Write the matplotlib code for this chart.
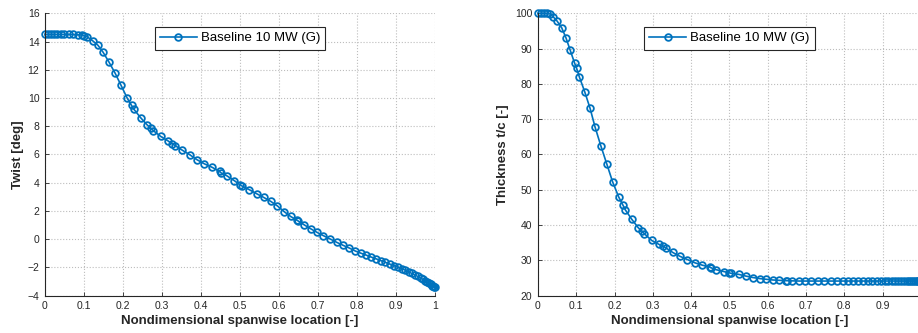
import numpy as np
import matplotlib
matplotlib.use('Agg')
import matplotlib.pyplot as plt

plt.rcParams['font.family'] = ['Liberation Sans', 'DejaVu Sans']

# spanwise stations (r/R) and blade properties of the baseline 10 MW rotor
span = [0.0, 0.008, 0.016, 0.024, 0.032, 0.040, 0.050, 0.062, 0.073, 0.084,
        0.096, 0.101, 0.108, 0.122, 0.136, 0.149, 0.164, 0.180, 0.195, 0.211,
        0.222, 0.228, 0.245, 0.262, 0.271, 0.278, 0.297, 0.316, 0.326, 0.334,
        0.352, 0.371, 0.390, 0.409, 0.429, 0.448, 0.451, 0.466, 0.485, 0.500,
        0.504, 0.524, 0.543, 0.561, 0.579, 0.596, 0.613, 0.630, 0.647, 0.650,
        0.664, 0.682, 0.698, 0.714, 0.731, 0.748, 0.765, 0.780, 0.796, 0.810,
        0.823, 0.836, 0.849, 0.861, 0.873, 0.884, 0.895, 0.905, 0.915, 0.924,
        0.933, 0.941, 0.949, 0.956, 0.963, 0.969, 0.975, 0.980, 0.985, 0.989,
        0.993, 0.996, 0.998, 1.0]

twist = [14.5, 14.5, 14.5, 14.5, 14.5, 14.5, 14.5, 14.5, 14.5, 14.48,
         14.46, 14.42, 14.34, 14.06, 13.73, 13.24, 12.55, 11.75, 10.90, 9.98,
         9.47, 9.20, 8.61, 8.09, 7.86, 7.68, 7.27, 6.95, 6.77, 6.62,
         6.30, 5.98, 5.62, 5.33, 5.08, 4.79, 4.70, 4.49, 4.15, 3.85,
         3.78, 3.50, 3.21, 2.95, 2.67, 2.35, 1.95, 1.60, 1.32, 1.27,
         1.02, 0.72, 0.47, 0.24, 0.01, -0.23, -0.45, -0.63, -0.85, -1.00,
         -1.13, -1.27, -1.40, -1.52, -1.65, -1.77, -1.88, -1.99, -2.10, -2.21,
         -2.33, -2.44, -2.55, -2.65, -2.76, -2.86, -2.96, -3.05, -3.14, -3.22,
         -3.30, -3.36, -3.40, -3.43]

thickness = [100.0, 100.0, 100.0, 100.0, 99.8, 99.0, 97.8, 95.9, 93.1, 89.6,
             85.8, 84.4, 82.0, 77.8, 73.1, 67.8, 62.5, 57.2, 52.2, 47.9,
             45.6, 44.3, 41.6, 39.2, 38.3, 37.5, 35.6, 34.5, 34.0, 33.5,
             32.2, 31.1, 30.2, 29.3, 28.6, 28.1, 27.9, 27.3, 26.8, 26.4,
             26.3, 26.0, 25.5, 25.1, 24.8, 24.6, 24.4, 24.3, 24.2, 24.2,
             24.15, 24.1, 24.1, 24.1, 24.1, 24.1, 24.1, 24.1, 24.1, 24.1,
             24.1, 24.1, 24.1, 24.1, 24.1, 24.1, 24.1, 24.1, 24.1, 24.1,
             24.1, 24.1, 24.1, 24.1, 24.1, 24.1, 24.1, 24.1, 24.1, 24.1,
             24.1, 24.1, 24.1, 24.1]

label = 'Baseline 10 MW (G)'
xticks = [0, 0.1, 0.2, 0.3, 0.4, 0.5, 0.6, 0.7, 0.8, 0.9, 1]
xticklabels = ['0', '0.1', '0.2', '0.3', '0.4', '0.5', '0.6', '0.7', '0.8', '0.9', '1']

blue = '#0072BD'
dark = '#262626'

fig = plt.figure(figsize=(9.18, 3.33), dpi=100)
ax1 = fig.add_axes([0.049, 0.1126, 0.4248, 0.8474])
ax2 = fig.add_axes([0.586, 0.1126, 0.4172, 0.8474])

def style_axis(ax, ylim, yticks, ylabel, ylabel_x, xlabels):
   ax.set_xlim(0, 1)
   ax.set_ylim(*ylim)
   ax.set_xticks(xticks)
   ax.set_xticklabels(xlabels)
   ax.set_yticks(yticks)
   ax.grid(True, linestyle=':', linewidth=0.8, color='#bdbdbd')
   ax.set_axisbelow(True)
   for s in ['top', 'right']:
      ax.spines[s].set_visible(False)
   for s in ['left', 'bottom']:
      ax.spines[s].set_color(dark)
      ax.spines[s].set_linewidth(0.8)
   ax.tick_params(direction='in', length=3, width=0.6, colors=dark,
                  labelsize=7.5, pad=4)
   ax.set_xlabel('Nondimensional spanwise location [-]', fontsize=9.5,
                 fontweight='bold', color=dark, labelpad=3)
   ax.set_ylabel(ylabel, fontsize=9.5, fontweight='bold', color=dark)
   ax.yaxis.set_label_coords(ylabel_x, 0.5)
   leg = ax.legend(loc='upper center', bbox_to_anchor=(0.5, 0.975),
                   fontsize=9.5, fancybox=False, framealpha=1,
                   edgecolor=dark, handlelength=2.8, borderpad=0.4,
                   handletextpad=0.3)
   leg.get_frame().set_linewidth(0.8)

ax1.plot(span, twist, '-o', color=blue, linewidth=1.2, markersize=4.8,
         markerfacecolor='none', markeredgewidth=1.3, label=label, clip_on=False)
style_axis(ax1, (-4, 16), range(-4, 17, 2), 'Twist [deg]', -0.055, xticklabels)

# the right panel runs past the figure edge, so its last label is not shown
ax2.plot(span, thickness, '-o', color=blue, linewidth=1.2, markersize=4.8,
         markerfacecolor='none', markeredgewidth=1.3, label=label, clip_on=False)
style_axis(ax2, (20, 100), range(20, 101, 10), 'Thickness t/c [-]', -0.075,
           xticklabels[:-1] + [''])

fig.savefig('out.png', dpi=100)
